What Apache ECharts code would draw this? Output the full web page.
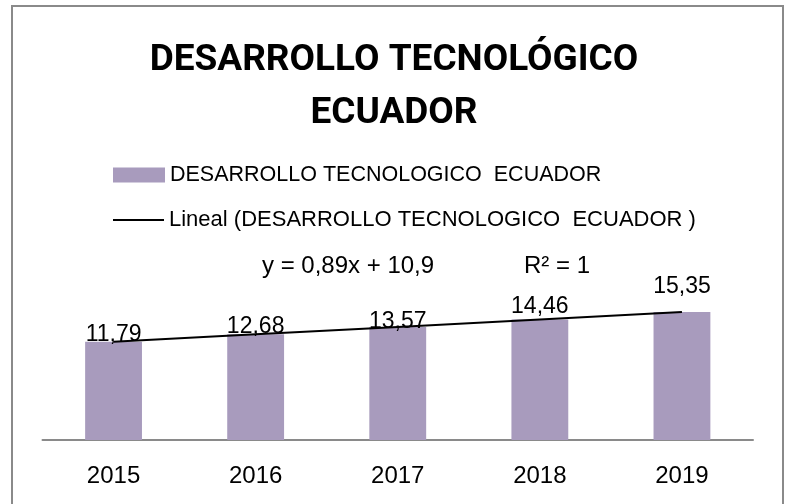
<!DOCTYPE html>
<html>
<head>
<meta charset="utf-8">
<script src="https://cdn.jsdelivr.net/npm/echarts@6/dist/echarts.min.js"></script>
<style>
html, body { margin: 0; padding: 0; background: #fff; }
#chart { width: 788px; height: 504px; }
</style>
</head>
<body>
<div id="chart"></div>
<script>
// datos
var years = ['2015', '2016', '2017', '2018', '2019'];
var desarrollo = [11.79, 12.68, 13.57, 14.46, 15.35];
// linea de tendencia (y = 0,89x + 10,9)
var tendencia = [11.79, 12.68, 13.57, 14.46, 15.35];
var serieBarra = 'DESARROLLO TECNOLOGICO  ECUADOR';
var serieLinea = 'Lineal (DESARROLLO TECNOLOGICO  ECUADOR )';

var fuente = '"Liberation Sans", Arial, sans-serif';
// separacion de cada etiqueta sobre su barra (como quedaron en el original)
var separacion = [-4, -4, -6, 1, 14];

var chart = echarts.init(document.getElementById('chart'));

var option = {
	animation: false,
	backgroundColor: '#fff',
	title: {
		text: 'DESARROLLO TECNOLÓGICO\nECUADOR',
		left: 'center',
		top: 29,
		textStyle: {
			fontFamily: 'Roboto, "Liberation Sans", sans-serif',
			fontWeight: 'bold',
			fontSize: 37,
			lineHeight: 53,
			color: '#000'
		}
	},
	legend: [{
		data: [serieBarra],
		left: 113,
		top: 164,
		padding: 0,
		itemWidth: 52,
		itemHeight: 15,
		itemGap: 6,
		icon: 'rect',
		textStyle: { fontFamily: fuente, fontSize: 21.5, color: '#000' }
	}, {
		data: [serieLinea],
		left: 113,
		top: 209,
		padding: 0,
		itemWidth: 51,
		itemHeight: 2,
		icon: 'rect',
		textStyle: { fontFamily: fuente, fontSize: 22, color: '#000' }
	}],
	graphic: [{
		type: 'rect',
		shape: { x: 12, y: 6, width: 771, height: 520 },
		style: { fill: 'none', stroke: '#8a8a8a', lineWidth: 2 },
		silent: true
	}, {
		type: 'text',
		left: 262,
		top: 254,
		style: { text: 'y = 0,89x + 10,9', font: '24px ' + fuente, fill: '#000' }
	}, {
		type: 'text',
		left: 524,
		top: 254,
		style: { text: 'R² = 1', font: '24px ' + fuente, fill: '#000' }
	}],
	grid: {
		left: 42.5,
		right: 35,
		top: 290,
		bottom: 64
	},
	xAxis: {
		type: 'category',
		data: years,
		axisLine: { lineStyle: { color: '#8a8a8a', width: 2 } },
		axisTick: { show: false },
		axisLabel: { margin: 24, fontFamily: fuente, fontSize: 24, color: '#000' }
	},
	yAxis: {
		type: 'value',
		min: 0,
		max: 18,
		show: false,
		splitLine: { show: false }
	},
	series: [{
		name: serieBarra,
		type: 'bar',
		data: desarrollo.map(function (v, i) {
			return { value: v, label: { distance: separacion[i] } };
		}),
		barWidth: '40%',
		itemStyle: { color: '#a89bbd' },
		label: {
			show: true,
			position: 'top',
			fontFamily: fuente,
			fontSize: 23,
			color: '#000',
			formatter: function (p) {
				return String(p.value).replace('.', ',');
			}
		}
	}, {
		name: serieLinea,
		type: 'line',
		data: tendencia,
		symbol: 'none',
		z: 5,
		lineStyle: { color: '#000', width: 2 },
		itemStyle: { color: '#000' }
	}]
};
chart.setOption(option);
</script>
</body>
</html>
